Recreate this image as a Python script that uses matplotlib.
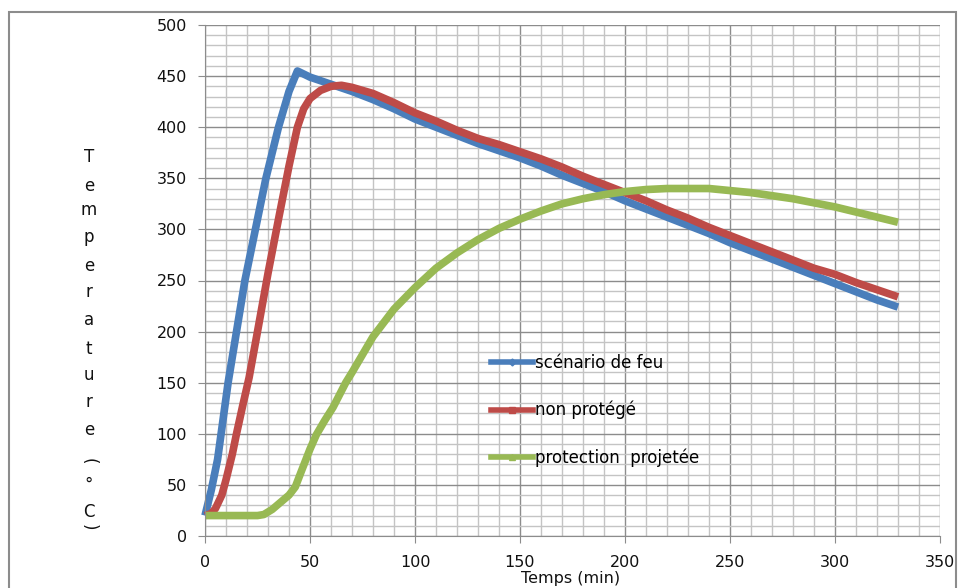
import matplotlib
matplotlib.use("Agg")
import matplotlib.pyplot as plt
from matplotlib.ticker import MultipleLocator
from matplotlib.lines import Line2D
from matplotlib.patches import Rectangle

plt.rcParams['font.family'] = ['DejaVu Sans']

# ---- data ----
t_feu = [0, 3, 6, 8, 11, 15, 19, 24, 29, 35, 40, 44, 50, 60, 70, 80, 90, 100, 110, 120,
         130, 140, 150, 160, 170, 180, 190, 200, 210, 220, 230, 240, 250, 260, 270, 280,
         290, 300, 310, 320, 330]
T_feu = [20, 45, 75, 105, 150, 200, 250, 300, 350, 400, 435, 455, 449, 442, 435, 427, 418, 408, 400, 392,
         384, 377, 370, 362, 353, 345, 337, 328, 320, 312, 304, 296, 287, 279, 271, 263,
         255, 247, 239, 231, 224]

t_np = [0, 3, 5, 8, 10, 13, 15, 18, 21, 25, 30, 35, 40, 44, 47, 50, 55, 60, 65, 70, 80, 90,
        100, 110, 120, 130, 140, 150, 160, 170, 180, 190, 200, 210, 220, 230, 240, 250, 260,
        270, 280, 290, 300, 310, 320, 330]
T_np = [20, 22, 27, 40, 55, 80, 100, 128, 155, 200, 257, 310, 362, 400, 418, 428, 436, 440, 441, 439, 433, 424,
        414, 406, 397, 389, 383, 376, 369, 361, 352, 344, 336, 328, 319, 311, 302, 294, 286,
        278, 270, 262, 256, 248, 241, 234]

t_pp = [0, 25, 28, 32, 36, 40, 43, 46, 50, 53, 57, 61, 67, 70, 80, 90, 100, 110, 120, 130, 140,
        150, 160, 170, 180, 190, 200, 210, 220, 230, 240, 250, 260, 270, 280, 290, 300, 310,
        320, 330]
T_pp = [20, 20, 21, 26, 33, 40, 48, 64, 85, 99, 113, 126, 150, 160, 195, 222, 243, 262, 277, 290, 301,
        310, 318, 325, 330, 334, 337, 339, 340, 340, 340, 338, 336, 333, 330, 326, 322, 317,
        312, 307]

labels = ["scénario de feu", "non protégé", "protection  projetée"]
colors = ["#4A7EBB", "#BE4B48", "#98B954"]
xticks = [0, 50, 100, 150, 200, 250, 300, 350]
yticks = [0, 50, 100, 150, 200, 250, 300, 350, 400, 450, 500]
ylabel_chars = list("Temperature") + ["(", "°", "C", ")"]

W, H = 960, 588
fig = plt.figure(figsize=(9.6, 5.88), dpi=100)
ax = fig.add_axes([205 / W, (H - 536) / H, (940 - 205) / W, (536 - 25) / H])

ax.set_xlim(0, 350)
ax.set_ylim(0, 500)
ax.set_xticks(xticks)
ax.set_yticks(yticks)
ax.xaxis.set_minor_locator(MultipleLocator(10))
ax.yaxis.set_minor_locator(MultipleLocator(10))
ax.grid(which='major', color='#8c8c8c', lw=1.0)
ax.grid(which='minor', color='#c4c4c4', lw=1.0)
ax.set_axisbelow(True)
for s in ['top', 'right']:
    ax.spines[s].set_visible(False)
for s in ['left', 'bottom']:
    ax.spines[s].set_color('#8c8c8c')
ax.tick_params(which='major', length=5, color='#8c8c8c', labelsize=11.5, labelcolor='#111111')
ax.tick_params(which='minor', length=0)
ax.tick_params(axis='x', pad=9)
ax.tick_params(axis='y', pad=8)

for tt, TT, c in zip([t_feu, t_np, t_pp], [T_feu, T_np, T_pp], colors):
    ax.plot(tt, TT, color=c, lw=5.5, solid_capstyle='butt', solid_joinstyle='round', clip_on=False)

handles = [
    Line2D([], [], color=colors[0], lw=4, marker='D', markersize=3.5),
    Line2D([], [], color=colors[1], lw=4, marker='s', markersize=5),
    Line2D([], [], color=colors[2], lw=4, marker='^', markersize=4.5),
]
ax.legend(handles, labels, loc='upper left', bbox_to_anchor=(0.378, 0.373), frameon=False,
          fontsize=12, labelspacing=1.75, handlelength=2.5, handletextpad=0.15, borderpad=0)

# x label
fig.text(571 / W, 1 - 578 / H, "Temps (min)", ha='center', va='center', fontsize=11.5, color='#111111')

# stacked y label
ys = [157, 186, 210, 237, 266, 292, 320, 349, 375, 402, 430, 461, 485, 512, 527]
for ch, yy in zip(ylabel_chars, ys):
    rot = -90 if ch in "()" else 0
    fig.text(89 / W, 1 - yy / H, ch, ha='center', va='center', fontsize=12, rotation=rot, color='#111111')

# outer border
fig.add_artist(Rectangle((9 / W, -0.05), (956 - 9) / W, 1.05 - 12 / H, transform=fig.transFigure,
                         fill=False, edgecolor='#8c8c8c', lw=1.5))

fig.savefig("out.png", dpi=100)
